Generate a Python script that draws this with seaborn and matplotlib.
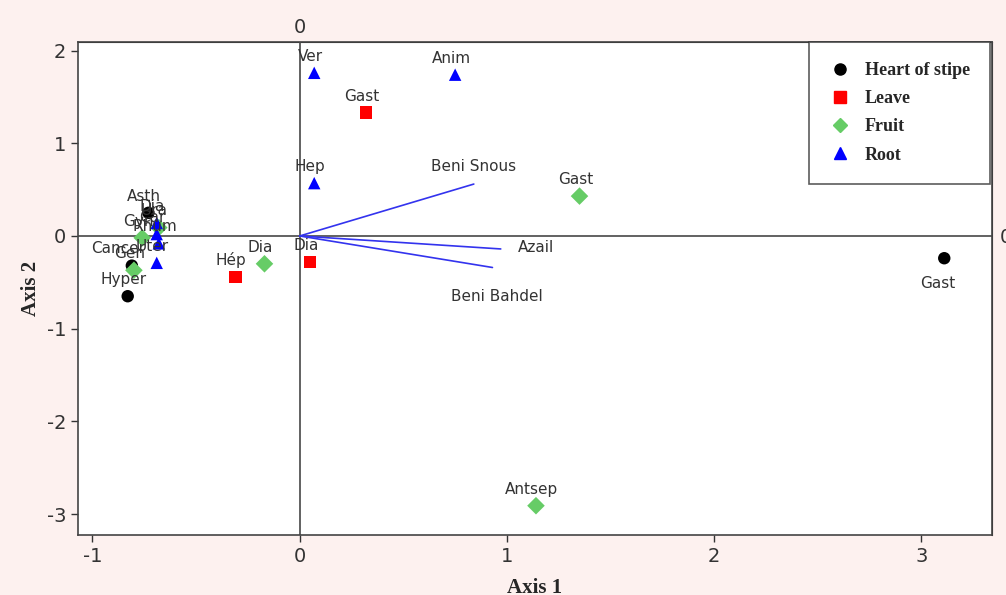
import numpy as np
import pandas as pd
import seaborn as sns
import matplotlib.pyplot as plt

# organ groups
organs = ["Heart of stipe", "Leave", "Fruit", "Root"]
colors = ["#000000", "#ff0000", "#66cc66", "#0000ff"]
marks = ["o", "s", "D", "^"]

# points
pt_organ = ["Heart of stipe"] * 4 + ["Leave"] * 3 + ["Fruit"] * 6 + ["Root"] * 7
pt_label = ["Gast", "Hyper", "Cancer", "Asth",
            "Gast", "Hép", "Dia",
            "Gast", "Antsep", "Dia", "Gen", "Gyn", "Ura",
            "Ver", "Anim", "Hep", "Uter", "Rhum", "Dia", "Car"]
pt_x = [3.11, -0.83, -0.81, -0.73,
        0.32, -0.31, 0.05,
        1.35, 1.14, -0.17, -0.80, -0.76, -0.68,
        0.07, 0.75, 0.07, -0.69, -0.68, -0.69, -0.69]
pt_y = [-0.24, -0.65, -0.32, 0.25,
        1.33, -0.44, -0.28,
        0.43, -2.91, -0.30, -0.37, -0.02, 0.09,
        1.76, 1.74, 0.57, -0.29, -0.08, 0.14, 0.02]

# site vectors
site = ["Beni Snous", "Azail", "Beni Bahdel"]
site_x = [0.84, 0.97, 0.93]
site_y = [0.56, -0.14, -0.34]

df = pd.DataFrame({"x": pt_x, "y": pt_y, "organ": pt_organ, "label": pt_label})

sns.set_style("white")
plt.rcParams["axes.unicode_minus"] = False
fig = plt.figure(figsize=(10.06, 5.95), dpi=100, facecolor="#fdf1ef")
ax = fig.add_axes([0.0775, 0.101, 0.9085, 0.828])
ax.set_facecolor("white")

ax.axhline(0, color="#555555", lw=1.3, zorder=1)
ax.axvline(0, color="#555555", lw=1.3, zorder=1)

for sx, sy in zip(site_x, site_y):
    ax.plot([0, sx], [0, sy], color="#3333ee", lw=1.2, zorder=2)

sns.scatterplot(data=df, x="x", y="y", hue="organ", style="organ",
                hue_order=organs, style_order=organs,
                palette=dict(zip(organs, colors)), markers=dict(zip(organs, marks)),
                s=80, edgecolor="none", ax=ax, zorder=3, legend=False)

for lab, x, y in zip(pt_label, pt_x, pt_y):
    dy = -18 if (lab == "Gast" and x > 3) else 12
    dx = -5 if (lab == "Gast" and x > 3) else -3
    if lab == "Cancer":
        dx = -10
    ax.annotate(lab, (x, y), xytext=(dx, dy), textcoords="offset points",
                ha="center", va="center", fontsize=11, color="#333333",
                family="DejaVu Sans")

ax.text(0.84, 0.75, "Beni Snous", ha="center", va="center", fontsize=11, color="#333333")
ax.text(1.14, -0.12, "Azail", ha="center", va="center", fontsize=11, color="#333333")
ax.text(0.95, -0.65, "Beni Bahdel", ha="center", va="center", fontsize=11, color="#333333")

ax.set_xlim(-1.07, 3.34)
ax.set_ylim(-3.225, 2.09)
ax.set_xticks([-1, 0, 1, 2, 3])
ax.set_yticks([-3, -2, -1, 0, 1, 2])
ax.tick_params(axis="both", labelsize=14, colors="#333333", length=5, width=1,
               direction="out", bottom=True, left=True)
for s in ax.spines.values():
    s.set_color("#444444")
    s.set_linewidth(1.2)

ax.set_xlabel("Axis 1", family="Liberation Serif", fontweight="bold", fontsize=15, labelpad=9)
ax.set_ylabel("Axis 2", family="Liberation Serif", fontweight="bold", fontsize=15, labelpad=4)

top = ax.secondary_xaxis("top")
top.set_xticks([0])
top.tick_params(length=0, labelsize=14, colors="#333333")
right = ax.secondary_yaxis("right")
right.set_yticks([0])
right.tick_params(length=0, labelsize=14, colors="#333333", pad=6)

handles = [plt.Line2D([], [], ls="", marker=m, color=c, markersize=8 if m != "D" else 7)
           for m, c in zip(marks, colors)]
leg = ax.legend(handles, organs, loc="upper right", bbox_to_anchor=(0.998, 1.0),
                prop={"family": "Liberation Serif", "weight": "bold", "size": 13},
                frameon=True, fancybox=False, edgecolor="#333333", borderpad=1.1,
                labelspacing=0.62, handletextpad=0.8, borderaxespad=0,
                handlelength=1.2)
leg.get_frame().set_linewidth(1.2)

fig.savefig("out.png", dpi=100, facecolor=fig.get_facecolor())
